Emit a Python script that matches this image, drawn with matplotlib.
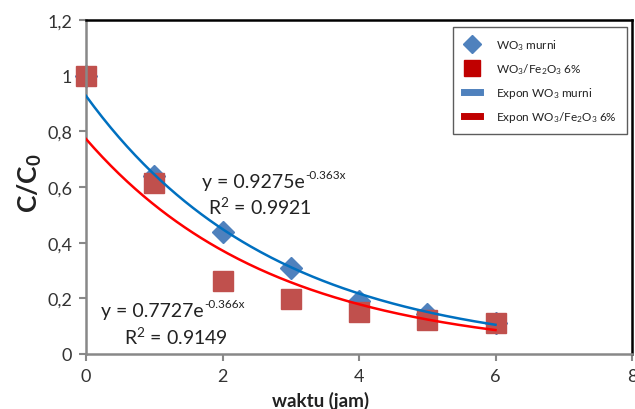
import numpy as np
import matplotlib
matplotlib.use("Agg")
import matplotlib.pyplot as plt
from matplotlib.lines import Line2D

# Data
waktu = [0, 1, 2, 3, 4, 5, 6]
wo3_murni = [1.0, 0.64, 0.44, 0.31, 0.19, 0.145, 0.11]
wo3_fe2o3 = [1.0, 0.615, 0.262, 0.198, 0.152, 0.122, 0.111]
fit_a = [0.9275, 0.7727]
fit_b = [-0.363, -0.366]
r2 = [0.9921, 0.9149]
xticks = [0, 2, 4, 6, 8]
yticks = [0, 0.2, 0.4, 0.6, 0.8, 1.0, 1.2]
ytick_labels = ["0", "0,2", "0,4", "0,6", "0,8", "1", "1,2"]

FONT = "Lato"
plt.rcParams['font.family'] = [FONT, 'DejaVu Sans']
plt.rcParams['mathtext.fontset'] = 'custom'
plt.rcParams['mathtext.rm'] = FONT
plt.rcParams['mathtext.it'] = FONT
plt.rcParams['mathtext.bf'] = FONT + ':bold'

blue_m = '#4F81BD'
red_m = '#C0504D'
blue_l = '#0070C0'
red_l = '#FF0000'
grey = '#888888'
txt = '#222222'

W, H = 635, 410
fig = plt.figure(figsize=(6.35, 4.1), dpi=100)
ax = fig.add_axes([86/W, 55/H, 546/W, 334/H])

xs = np.linspace(0, 6, 200)
ax.plot(xs, fit_a[0]*np.exp(fit_b[0]*xs), color=blue_l, lw=1.8, zorder=3)
ax.plot(xs, fit_a[1]*np.exp(fit_b[1]*xs), color=red_l, lw=1.8, zorder=3)
ax.plot(waktu, wo3_murni, linestyle='none', marker='D', ms=11, color=blue_m, zorder=2, clip_on=False)
ax.plot(waktu, wo3_fe2o3, linestyle='none', marker='s', ms=14, color=red_m, zorder=2, clip_on=False)

ax.set_xlim(0, 8)
ax.set_ylim(0, 1.2)
ax.set_xticks(xticks)
ax.set_yticks(yticks)
ax.set_yticklabels(ytick_labels)
ax.tick_params(direction='out', length=5, width=1.5, color=grey, labelsize=13, labelcolor='#333333', pad=5)
for s in ['left', 'bottom']:
    ax.spines[s].set_color(grey)
    ax.spines[s].set_linewidth(1.8)
for s in ['top', 'right']:
    ax.spines[s].set_color('black')
    ax.spines[s].set_linewidth(1.8)

fig.text(30/W, 1 - 183/H, r'$\mathbf{C/C_0}$', rotation=90, ha='center', va='center',
         fontsize=19, color=txt)
fig.text(321/W, 1 - 401/H, 'waktu (jam)', ha='center', va='center', fontsize=13.5,
         fontweight='bold', color=txt)

fig.canvas.draw()
renderer = fig.canvas.get_renderer()

def eqtext(x0, yc, a, b):
    t = fig.text(x0/W, 1 - yc/H, 'y = %.4fe' % a, ha='left', va='center', fontsize=14, color=txt)
    bb = t.get_window_extent(renderer=renderer)
    fig.text((bb.x1 + 1)/W, 1 - (yc - 7)/H, '%.3fx' % b, ha='left', va='center', fontsize=8.5, color=txt)

eqtext(202, 183, fit_a[0], fit_b[0])
fig.text(260/W, 1 - 207/H, r'R$^2$ = %.4f' % r2[0], ha='center', va='center', fontsize=14, color=txt)
eqtext(101, 312, fit_a[1], fit_b[1])
fig.text(176/W, 1 - 337/H, r'R$^2$ = %.4f' % r2[1], ha='center', va='center', fontsize=14, color=txt)

handles = [
    Line2D([], [], linestyle='none', marker='D', ms=9, color=blue_m),
    Line2D([], [], linestyle='none', marker='s', ms=12, color='#C00000'),
    Line2D([], [], color=blue_m, lw=5),
    Line2D([], [], color='#C00000', lw=5),
]
labels = [r'WO$_3$ murni', r'WO$_3$/Fe$_2$O$_3$ 6%', r'Expon WO$_3$ murni', r'Expon WO$_3$/Fe$_2$O$_3$ 6%']
leg = fig.legend(handles, labels, loc='upper left', bbox_to_anchor=(453/W, 1 - 28/H),
                 fontsize=8.5, frameon=True, fancybox=False, edgecolor='#333333',
                 handlelength=1.4, labelspacing=0.75, borderpad=0.9, handletextpad=1.3,
                 borderaxespad=0)
leg.get_frame().set_linewidth(1.0)
for t in leg.get_texts():
    t.set_color(txt)

fig.savefig('out.png', dpi=100)
